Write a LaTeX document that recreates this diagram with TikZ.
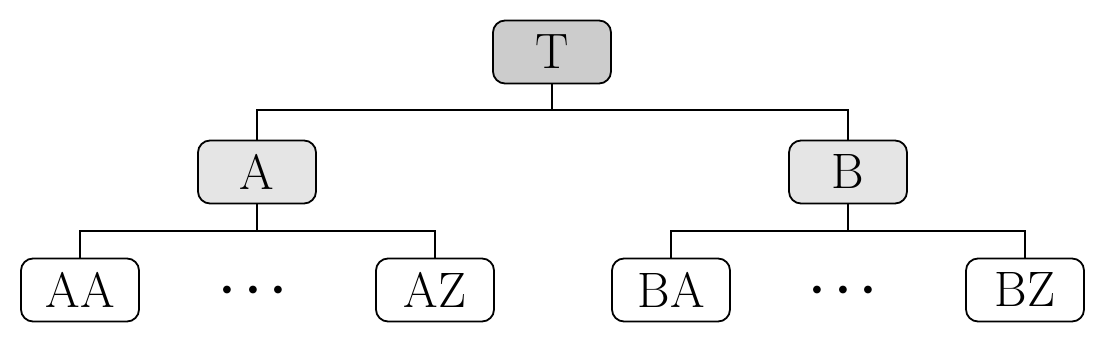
\documentclass[tikz,border=0pt]{standalone}
\begin{document}
\begin{tikzpicture}[x=0.5pt,y=-0.5pt,
  box/.style={draw,line width=0.9pt,rounded corners=6pt,minimum width=59pt,minimum height=31.5pt,inner sep=0pt,font=\Huge},
  dots/.style={inner sep=0pt,anchor=base,font=\fontsize{28}{30}\selectfont\boldmath},
  link/.style={line width=0.9pt}]
\useasboundingbox (0,0) rectangle (1106,341);
\node[box,fill=black!20] (T) at (552,52) {T};
\node[box,fill=black!10] (A) at (257,172) {A};
\node[box,fill=black!10] (B) at (848,172) {B};
\node[box] (AA) at (80,290) {AA};
\node[box] (AZ) at (435,290) {AZ};
\node[box] (BA) at (671,290) {BA};
\node[box] (BZ) at (1025,290) {BZ};
\node[dots] (d1) at (253,302) {$\cdots$};
\node[dots] (d2) at (843,302) {$\cdots$};
\draw[link] (T.south) -- ++(0,26) -| (A.north);
\draw[link] (T.south) -- ++(0,26) -| (B.north);
\draw[link] (A.south) -- ++(0,27) -| (AA.north);
\draw[link] (A.south) -- ++(0,27) -| (AZ.north);
\draw[link] (B.south) -- ++(0,27) -| (BA.north);
\draw[link] (B.south) -- ++(0,27) -| (BZ.north);
\end{tikzpicture}
\end{document}
